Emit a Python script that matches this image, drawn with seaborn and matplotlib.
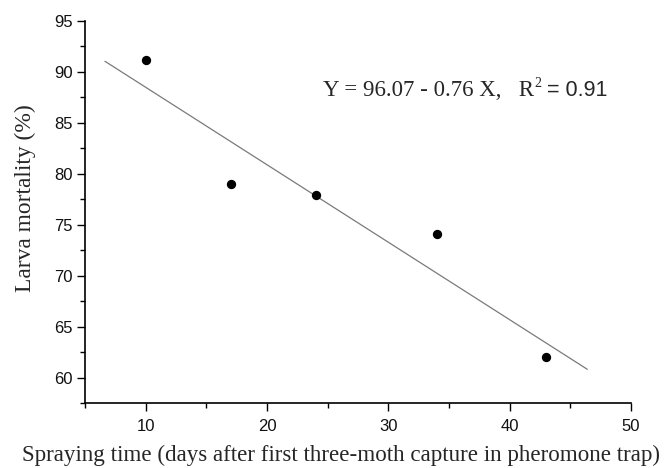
import matplotlib
matplotlib.use("Agg")
import matplotlib.pyplot as plt
from matplotlib.ticker import MultipleLocator
import numpy as np
import pandas as pd
import seaborn as sns

# Data
spray_days = [10, 17, 24, 34, 43]
mortality = [91.1, 79.0, 77.9, 74.1, 62.0]
intercept = 96.07
slope = -0.76
fit_x_range = [6.65, 46.4]

x_ticks = [10, 20, 30, 40, 50]
y_ticks = [60, 65, 70, 75, 80, 85, 90, 95]

sns.set_style("ticks")
plt.rcParams["font.family"] = ["Liberation Sans", "DejaVu Sans"]

df = pd.DataFrame({"x": spray_days, "y": mortality})
fit_df = pd.DataFrame({"x": fit_x_range,
                       "y": [intercept + slope * v for v in fit_x_range]})

fig = plt.figure(figsize=(6.67, 4.68), dpi=100)
ax = fig.add_axes([0.1274, 0.1389, 0.8186, 0.8169])

sns.lineplot(data=fit_df, x="x", y="y", ax=ax, color="#7a7a7a", linewidth=0.9)
sns.scatterplot(data=df, x="x", y="y", ax=ax, color="black", s=45,
                edgecolor="black", linewidth=0, zorder=3)

ax.set_xlim(5, 50)
ax.set_ylim(57.5, 95)
ax.set_xticks(x_ticks)
ax.set_yticks(y_ticks)
ax.xaxis.set_minor_locator(MultipleLocator(5))
ax.yaxis.set_minor_locator(MultipleLocator(2.5))
ax.tick_params(axis="both", which="major", direction="out", length=5.8,
               width=1, labelsize=12, color="black", labelcolor="#111111")
ax.tick_params(axis="x", which="major", pad=5.5)
ax.tick_params(axis="y", which="major", pad=3)
ax.tick_params(axis="both", which="minor", direction="out", length=3.6,
               width=1, color="black")
for s in ["top", "right"]:
    ax.spines[s].set_visible(False)
for s in ["left", "bottom"]:
    ax.spines[s].set_linewidth(1.2)
    ax.spines[s].set_color("black")

ax.set_xlabel("Spraying time (days after first three-moth capture in pheromone trap)",
              fontfamily="Liberation Serif", fontsize=16.6, va="baseline")
ax.set_ylabel("Larva mortality (%)", fontfamily="Liberation Serif",
              fontsize=16.9, va="center")
ax.xaxis.set_label_coords(0.469, -0.1505)
ax.yaxis.set_label_coords(-0.110, 0.536)

ty = 88.2
t1 = ax.text(24.6, ty, "Y = 96.07 - 0.76 X,   R",
             fontfamily="Liberation Serif", fontsize=16.5, va="center", ha="left")
fig.canvas.draw()
r = fig.canvas.get_renderer()
bb = t1.get_window_extent(r)
inv = ax.transData.inverted()
x2 = inv.transform((bb.x1 + 1, bb.y0))[0]
t2 = ax.text(x2, ty, "2", fontfamily="Liberation Serif", fontsize=10,
             va="bottom", ha="left")
fig.canvas.draw()
bb2 = t2.get_window_extent(r)
x3 = inv.transform((bb2.x1 + 5, bb.y0))[0]
ax.text(x3, ty, "= 0.91", fontfamily="Liberation Sans", fontsize=15.5,
        va="center", ha="left")

fig.savefig("out.png", dpi=100)
